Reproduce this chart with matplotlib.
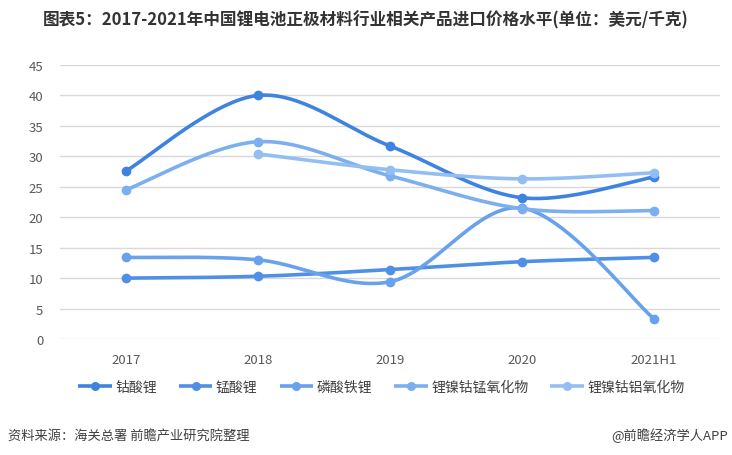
import numpy as np
import matplotlib
matplotlib.use('Agg')
import matplotlib.pyplot as plt

plt.rcParams['font.family'] = ['Noto Sans CJK SC', 'DejaVu Sans']

# data (美元/千克)
years = ['2017', '2018', '2019', '2020', '2021H1']
licoo2 = [27.6, 40.0, 31.7, 23.2, 26.6]          # 钴酸锂
limn2o4 = [10.0, 10.3, 11.4, 12.7, 13.4]         # 锰酸锂
lfp = [13.4, 13.0, 9.4, 21.5, 3.3]               # 磷酸铁锂
ncm = [24.5, 32.4, 26.8, 21.4, 21.1]             # 锂镍钴锰氧化物
nca = [None, 30.4, 27.8, 26.3, 27.3]             # 锂镍钴铝氧化物

names = ['钴酸锂', '锰酸锂', '磷酸铁锂', '锂镍钴锰氧化物', '锂镍钴铝氧化物']
series = [licoo2, limn2o4, lfp, ncm, nca]
colors = ['#3f83e0', '#4f8fe6', '#68a1ec', '#7cafef', '#93bef4']


# smooth curve through points (catmull-rom style bezier, like excel smoothing)
def smooth(xs, ys, n=40):
    xs = np.asarray(xs, float)
    ys = np.asarray(ys, float)
    out_x, out_y = [], []
    for i in range(len(xs) - 1):
        p0 = np.array([xs[max(i - 1, 0)], ys[max(i - 1, 0)]])
        p1 = np.array([xs[i], ys[i]])
        p2 = np.array([xs[i + 1], ys[i + 1]])
        p3 = np.array([xs[min(i + 2, len(xs) - 1)], ys[min(i + 2, len(xs) - 1)]])
        c1 = p1 + (p2 - p0) / 6
        c2 = p2 - (p3 - p1) / 6
        t = np.linspace(0, 1, n)[:, None]
        pts = (1 - t) ** 3 * p1 + 3 * (1 - t) ** 2 * t * c1 + 3 * (1 - t) * t ** 2 * c2 + t ** 3 * p2
        out_x.extend(pts[:, 0])
        out_y.extend(pts[:, 1])
    return out_x, out_y


fig = plt.figure(figsize=(7.32, 4.56), dpi=100)
ax = fig.add_axes([60 / 732, 116 / 456, 660 / 732, 274 / 456])

for name, vals, c in zip(names, series, colors):
    idx = [i for i, v in enumerate(vals) if v is not None]
    xv = [i for i in idx]
    yv = [vals[i] for i in idx]
    sx, sy = smooth(xv, yv)
    ax.plot(sx, sy, color=c, lw=2.6, solid_capstyle='round', zorder=3)
    ax.plot(xv, yv, 'o', color=c, ms=6, zorder=4)
    ax.plot([], [], color=c, lw=2.6, marker='o', ms=5.5, solid_capstyle='butt', label=name)

ax.set_xlim(-0.5, 4.5)
ax.set_ylim(0, 45)
ax.set_yticks(range(0, 46, 5))
ax.set_xticks(range(len(years)))
ax.set_xticklabels(years)
ax.grid(axis='y', color='#d9d9d9', lw=1)
ax.set_axisbelow(True)
for s in ax.spines.values():
    s.set_visible(False)
ax.tick_params(length=0, labelsize=9.5, colors='#595959')
ax.tick_params(axis='y', pad=12)
ax.tick_params(axis='x', pad=10)

fig.text(0.5, 1 - 20 / 456, '图表5：2017-2021年中国锂电池正极材料行业相关产品进口价格水平(单位：美元/千克)',
         ha='center', va='center', fontsize=12, fontweight='bold', color='#333333')

fig.legend(loc='center', bbox_to_anchor=(0.521, 1 - 388 / 456), ncol=5, frameon=False,
           fontsize=10, labelcolor='#404040', handlelength=2.4, columnspacing=1.6,
           handletextpad=0.25)

fig.text(8 / 732, 1 - 436 / 456, '资料来源：海关总署 前瞻产业研究院整理', ha='left', va='center',
         fontsize=9.5, color='#404040')
fig.text(728 / 732, 1 - 436 / 456, '@前瞻经济学人APP', ha='right', va='center',
         fontsize=9.5, color='#404040')

fig.savefig('out.png', dpi=100)
